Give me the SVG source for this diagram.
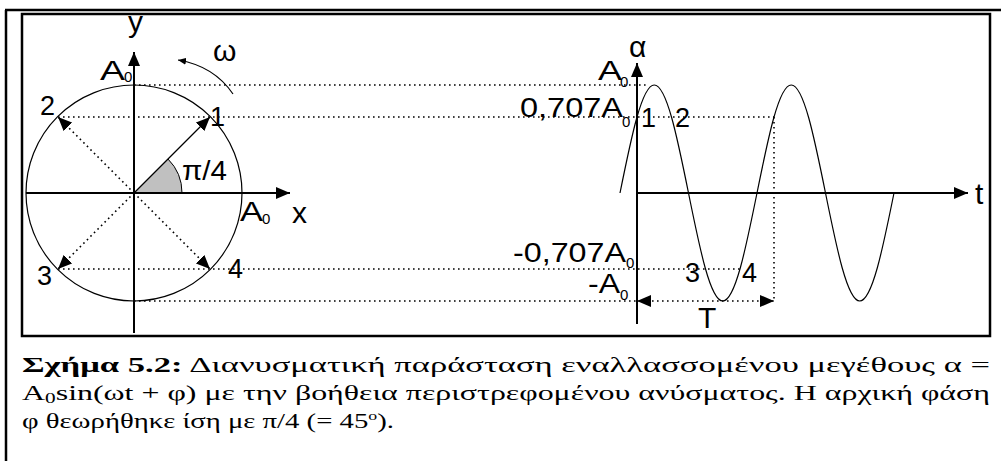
<svg xmlns="http://www.w3.org/2000/svg" width="1001" height="461" viewBox="0 0 1001 461">
<style>
.frame{fill:none;stroke:#000;stroke-width:2.5}
.axis{fill:none;stroke:#000;stroke-width:2}
.thin{fill:none;stroke:#000;stroke-width:1.2}
.dot{fill:none;stroke:#000;stroke-width:1.6;stroke-dasharray:1.6 3.4}
.lbl{font-family:"Liberation Sans",Arial,sans-serif;font-size:27px;fill:#000}
.sym{font-family:"Liberation Sans",Arial,sans-serif;font-size:30px;fill:#000}
.sub{font-family:"Liberation Sans",Arial,sans-serif;font-size:15px;fill:#000}
.cap{font-family:"Liberation Serif","Times New Roman",serif;font-size:21px;fill:#000}
</style>
<defs>
<marker id="ah" viewBox="0 0 14 12" refX="14" refY="6" markerWidth="14" markerHeight="12" markerUnits="userSpaceOnUse" orient="auto-start-reverse"><path d="M0,0 L14,6 L0,12 z" fill="#000"/></marker>
<marker id="ahs" viewBox="0 0 8 7" refX="8" refY="3.5" markerWidth="8" markerHeight="7" markerUnits="userSpaceOnUse" orient="auto"><path d="M0,0 L8,3.5 L0,7 z" fill="#000"/></marker>
</defs>

<g id="frame">
<path class="frame" d="M5,10 H1001 M6,10 V461"/>
<rect class="frame" x="22" y="14" width="968" height="322"/>
</g>

<g id="phasor">
<circle cx="134" cy="193" r="108" fill="none" stroke="#000" stroke-width="1.2"/>
<path d="M134,193 L182,193 A48,48 0 0,0 168,159 Z" fill="#c0c0c0" stroke="#000" stroke-width="1"/>
</g>

<g id="connectors">
<line class="axis" x1="134" y1="333" x2="134" y2="52" marker-end="url(#ah)"/>
<line class="axis" x1="26" y1="193" x2="290" y2="193" marker-end="url(#ah)"/>
<line class="thin" x1="134" y1="193" x2="210" y2="117" marker-end="url(#ah)"/>
<line class="dot" x1="134" y1="193" x2="58" y2="117" marker-end="url(#ah)"/>
<line class="dot" x1="134" y1="193" x2="58" y2="269" marker-end="url(#ah)"/>
<line class="dot" x1="134" y1="193" x2="210" y2="269" marker-end="url(#ah)"/>
<path class="thin" d="M233,94 Q214,66 178,60" marker-end="url(#ahs)"/>
<line class="dot" x1="134" y1="85" x2="646" y2="85"/>
<line class="dot" x1="58" y1="117" x2="774" y2="117"/>
<line class="dot" x1="58" y1="269" x2="740" y2="269"/>
<line class="dot" x1="134" y1="301" x2="637" y2="301"/>
<line class="dot" x1="774" y1="117" x2="774" y2="301"/>
<line class="dot" x1="637" y1="301" x2="774" y2="301" marker-start="url(#ah)" marker-end="url(#ah)"/>
<line class="axis" x1="637" y1="324" x2="637" y2="63" marker-end="url(#ah)"/>
<line class="axis" x1="637" y1="193" x2="968" y2="193" marker-end="url(#ah)"/>
<path class="thin" d="M620,193 C631.17,137.67 641.85,85 654.25,85 S677.33,137.67 688.5,193 S710.35,301 722.75,301 S745.83,248.33 757,193 S778.85,85 791.25,85 S814.33,137.67 825.5,193 S847.35,301 859.75,301 S882.83,248.33 894,193"/>
</g>

<g id="labels-left">
<text class="sym" x="128" y="32">y</text>
<text class="sym" x="213" y="61">ω</text>
<text class="lbl" x="100" y="80" textLength="25" lengthAdjust="spacingAndGlyphs">A</text>
<text class="sub" x="124" y="82">0</text>
<text class="lbl" x="40" y="115">2</text>
<text class="lbl" x="210" y="126">1</text>
<text class="lbl" x="182" y="180" textLength="45" lengthAdjust="spacingAndGlyphs">π/4</text>
<text class="lbl" x="240" y="221" textLength="23" lengthAdjust="spacingAndGlyphs">A</text>
<text class="sub" x="262" y="224">0</text>
<text class="sym" x="292" y="223">x</text>
<text class="lbl" x="37" y="285">3</text>
<text class="lbl" x="228" y="278">4</text>
</g>

<g id="labels-right">
<text class="sym" x="629" y="57">α</text>
<text class="lbl" x="598" y="80" textLength="24" lengthAdjust="spacingAndGlyphs">A</text>
<text class="sub" x="620" y="87">0</text>
<text class="lbl" x="520" y="117" textLength="103" lengthAdjust="spacingAndGlyphs">0,707A</text>
<text class="sub" x="622" y="127">0</text>
<text class="lbl" x="641" y="127">1</text>
<text class="lbl" x="675" y="127">2</text>
<text class="lbl" x="513" y="262" textLength="113" lengthAdjust="spacingAndGlyphs">-0,707A</text>
<text class="sub" x="626" y="268">0</text>
<text class="lbl" x="588" y="293" textLength="32" lengthAdjust="spacingAndGlyphs">-A</text>
<text class="sub" x="620" y="300">0</text>
<text class="lbl" x="685" y="282">3</text>
<text class="lbl" x="742" y="282">4</text>
<text class="sym" x="698" y="328">T</text>
<text class="sym" x="975" y="204">t</text>
</g>

<g id="caption">
<text class="cap" x="22" y="372" textLength="968" lengthAdjust="spacingAndGlyphs"><tspan font-weight="bold">Σχήμα 5.2:</tspan> Διανυσματική παράσταση εναλλασσομένου μεγέθους α =</text>
<text class="cap" x="22" y="400" textLength="968" lengthAdjust="spacingAndGlyphs">A<tspan font-size="14" dy="3">0</tspan><tspan dy="-3">sin(ωt + φ) με την βοήθεια περιστρεφομένου ανύσματος. Η αρχική φάση</tspan></text>
<text class="cap" x="22" y="428" textLength="372" lengthAdjust="spacingAndGlyphs">φ θεωρήθηκε ίση με π/4 (= 45<tspan font-size="13" dy="-8">o</tspan><tspan dy="8">).</tspan></text>
</g>
</svg>
